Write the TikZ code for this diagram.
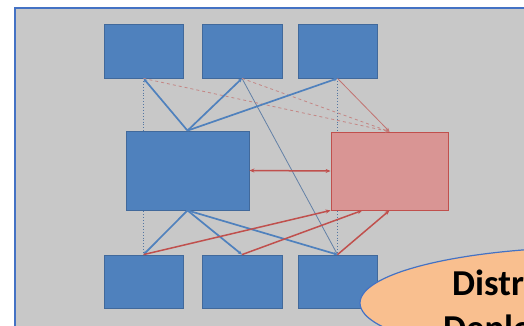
\documentclass[tikz,border=0pt]{standalone}
\usepackage{fontspec}
\newfontfamily\calib{Carlito}
\usetikzlibrary{arrows.meta,shapes.geometric,calc}
\definecolor{bgray}{HTML}{C8C8C8}
\definecolor{frameblue}{HTML}{4472C4}
\definecolor{boxblue}{HTML}{4F81BD}
\definecolor{boxblueline}{HTML}{41699B}
\definecolor{pinkfill}{HTML}{D99594}
\definecolor{redline}{HTML}{C0504D}
\definecolor{peach}{HTML}{F9BF8F}
\tikzset{
  bluebox/.style={draw=boxblueline, fill=boxblue, line width=0.8pt, inner sep=0pt},
  pinkbox/.style={draw=redline, fill=pinkfill, line width=0.8pt, inner sep=0pt},
  bluethick/.style={draw=boxblue, line width=1.7pt},
  bluethin/.style={draw=boxblueline!75!bgray, line width=0.8pt},
  bluedot/.style={draw=boxblueline!85!bgray, line width=0.9pt, dotted},
  redthick/.style={draw=redline, line width=1.5pt},
  redthin/.style={draw=redline!70!bgray, line width=0.8pt},
  reddash/.style={draw=redline!55!bgray, line width=0.8pt, dashed},
  tipb/.style={-{Stealth[length=4pt,width=3.5pt]}},
  tipr/.style={-{Stealth[length=5pt,width=4pt]}},
  bubbletext/.style={font=\calib\bfseries\fontsize{36.5}{44}\selectfont, text=black, inner sep=0pt},
}
\begin{document}
\begin{tikzpicture}[x=1pt,y=-1pt]
\useasboundingbox (0,0) rectangle (524,325);
\clip (0,0) rectangle (524,325);
\fill[white] (0,0) rectangle (524,325);
\draw[frameblue, line width=1.6pt, fill=bgray] (15,8) rectangle (545,345);

% dotted verticals (drawn first, boxes cover them)
\coordinate (d1t) at (143.5,78);
\coordinate (d1b) at (143.5,255);
\coordinate (d3t) at (337.5,78);
\coordinate (d3b) at (337.5,255);
\draw[bluedot] (d1t) -- (d1b);
\draw[bluedot] (d3t) -- (d3b);

% nodes
\node[bluebox, minimum width=79pt, minimum height=54pt] (t1) at (143.5,51) {};
\node[bluebox, minimum width=80pt, minimum height=54pt] (t2) at (242,51) {};
\node[bluebox, minimum width=79pt, minimum height=54pt] (t3) at (337.5,51) {};
\node[bluebox, minimum width=123pt, minimum height=79pt] (mid) at (187.5,170.5) {};
\node[pinkbox, minimum width=117pt, minimum height=78pt] (pink) at (389.5,171) {};
\node[bluebox, minimum width=79pt, minimum height=53pt] (b1) at (143.5,281.5) {};
\node[bluebox, minimum width=80pt, minimum height=53pt] (b2) at (242,281.5) {};
\node[bluebox, minimum width=79pt, minimum height=53pt] (b3) at (337.5,281.5) {};

\draw[bluethin] (t2.south) -- (b3.north);
\draw[reddash, tipb] (t1.south) -- (pink.north);
\draw[reddash, tipb] (t2.south) -- (pink.north);
\draw[redthin, tipb] (t3.south) -- (pink.north);

\draw[bluethick, tipb] (mid.north) -- (t1.south);
\draw[bluethick, tipb] (mid.north) -- (t2.south);
\draw[bluethick, tipb] (mid.north) -- (t3.south);

\draw[redthick, {Stealth[length=5pt,width=4pt]}-{Stealth[length=5pt,width=4pt]}] (mid.east) -- (pink.west);

\draw[bluethick, tipb] (mid.south) -- (b1.north);
\draw[bluethick, tipb] (mid.south) -- (b2.north);
\draw[bluethick, tipb] (mid.south) -- (b3.north);

\coordinate (pk2) at ($(pink.south west)!0.27!(pink.south east)$);
\draw[redthick, tipr] (b1.north) -- (pink.south west);
\draw[redthick, tipr] (b2.north) -- (pk2);
\draw[redthick, tipr] (b3.north) -- (pink.south);

% callout
\node[ellipse, draw=frameblue, fill=peach, line width=1.2pt, minimum width=480pt, minimum height=112pt] (bubble) at (600,303) {};
\node[bubbletext, anchor=base west] (l1) at (452,295) {Distributed};
\node[bubbletext, anchor=base west] (l2) at (443,340) {Deployment};
\end{tikzpicture}
\end{document}
